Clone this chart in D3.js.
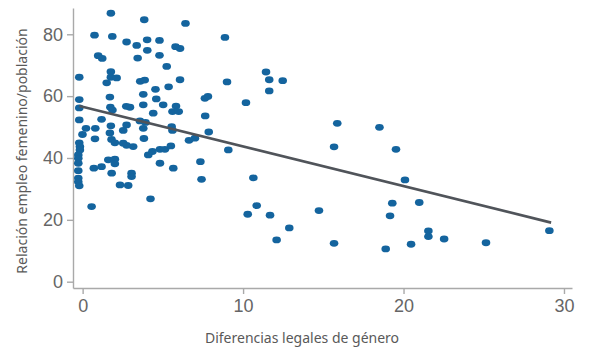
<!DOCTYPE html>
<html>
<head>
<meta charset="utf-8">
<script src="https://cdnjs.cloudflare.com/ajax/libs/d3/7.8.5/d3.min.js"></script>
<style>
  body { margin: 0; background: #fff; }
  svg { font-family: "Noto Sans", sans-serif; }
  .axis path, .axis line { stroke: #a9a9a9; stroke-width: 1.4; }
  .axis text { fill: #666; font-size: 18px; }
  .label { fill: #595959; font-size: 14px; }
</style>
</head>
<body>
<svg></svg>
<script>
// brecha legal (x) vs relacion empleo femenino/poblacion (y)
var legalGap = [
  1.76, 3.84, 6.41, 0.74, 1.85, 2.74, 3.37, 4.02, 4.79, 4.03,
  4.79, 3.43, 0.97, 1.22, 5.79, 6.07, 5.24, 1.76, 1.76, 2.12,
  -0.21, 1.50, 3.59, 3.87, 6.07, 4.54, 5.36, 3.78, 4.59, 1.70,
  -0.21, -0.21, 2.72, 2.95, 3.78, 5.02, 5.82, 5.60, 5.99, 1.73,
  1.86, 1.18, -0.21, 3.57, 3.92, 4.40, 2.74, 2.53, 0.21, 0.79,
  1.76, 1.70, -0.01, 5.55, 5.60, 7.62, 7.81, 7.64, 7.86, 6.63,
  7.00, 3.78, 3.15, 3.82, 0.77, 1.80, 2.01, -0.21, -0.17, -0.17,
  2.53, 2.74, 4.09, 4.35, 4.82, 5.13, 5.50, -0.27, -0.27, -0.27,
  -0.27, -0.27, -0.27, -0.21, 0.70, 1.18, 1.60, 2.01, 2.01, 1.81,
  3.05, 3.05, 2.33, 2.84, 0.56, 4.23, 4.82, 5.65, 7.34, 7.41,
  8.87, 9.00, 11.43, 11.63, 12.47, 11.63, 10.18, 9.08, 15.87, 18.50,
  15.67, 10.64, 10.85, 10.29, 11.68, 14.73, 12.88, 12.09, 15.67, 19.53,
  20.09, 19.30, 20.98, 19.16, 21.55, 21.55, 22.53, 25.14, 20.47, 18.89,
  29.09
];
var employment = [
  86.8, 84.7, 83.5, 79.7, 79.3, 77.5, 76.4, 78.2, 78.0, 74.8,
  73.2, 72.3, 73.1, 72.2, 76.0, 75.4, 69.6, 67.9, 66.1, 65.9,
  66.1, 64.3, 64.8, 65.2, 65.3, 62.2, 63.0, 60.6, 59.1, 59.7,
  58.9, 56.2, 56.7, 56.4, 57.2, 57.2, 56.8, 55.0, 55.0, 56.4,
  55.5, 52.5, 52.3, 52.0, 51.5, 54.5, 50.7, 48.9, 49.6, 49.6,
  50.4, 48.1, 47.6, 50.1, 48.9, 59.3, 59.9, 53.6, 48.4, 45.7,
  46.4, 49.6, 43.7, 46.3, 46.2, 46.0, 44.9, 44.9, 43.7, 42.6,
  44.8, 44.1, 41.0, 42.1, 42.8, 42.8, 43.9, 41.0, 39.9, 38.3,
  35.9, 33.5, 32.3, 31.0, 36.7, 37.2, 39.4, 39.6, 38.1, 35.1,
  35.1, 34.0, 31.3, 31.1, 24.3, 26.8, 38.3, 36.7, 38.8, 33.1,
  79.0, 64.6, 67.8, 65.3, 65.0, 61.7, 57.9, 42.6, 51.2, 49.9,
  43.6, 33.6, 24.6, 21.8, 21.5, 23.0, 17.4, 13.5, 12.4, 42.8,
  32.9, 25.4, 25.6, 21.3, 16.4, 14.6, 13.8, 12.6, 12.1, 10.6,
  16.5
];

// linea de tendencia (extremos)
var trendX = [-0.2, 29.2];
var trendY = [56.8, 19.1];

var xTicks = [0, 10, 20, 30];
var yTicks = [0, 20, 40, 60, 80];

var width = 590;
var height = 354;

var svg = d3.select("svg")
  .attr("width", width)
  .attr("height", height);

var xscale = d3.scaleLinear()
  .domain([-0.6, 30.5])
  .range([73, 572]);

var yscale = d3.scaleLinear()
  .domain([-2.04, 88.5])
  .range([288, 8]);

//X axis
var xaxis = d3.axisBottom(xscale)
  .tickValues(xTicks)
  .tickSize(6)
  .tickPadding(5)
  .tickSizeOuter(0);

svg.append("g")
  .attr("class", "x axis")
  .attr("transform", "translate(0,288)")
  .call(xaxis);

//Y axis
var yaxis = d3.axisLeft(yscale)
  .tickValues(yTicks)
  .tickSize(6)
  .tickPadding(4)
  .tickSizeOuter(0);

svg.append("g")
  .attr("class", "y axis")
  .attr("transform", "translate(73,0)")
  .call(yaxis);

//Points
var points = legalGap.map(function(x, i){ return { x: x, y: employment[i] }; });

svg.append("g")
  .selectAll("ellipse")
  .data(points)
  .enter()
  .append("ellipse")
  .attr("cx", function(d){ return xscale(d.x); })
  .attr("cy", function(d){ return yscale(d.y); })
  .attr("rx", 4.3)
  .attr("ry", 3.4)
  .attr("fill", "#14649e");

//Trend line
var line = d3.line()
  .x(function(d){ return xscale(d[0]); })
  .y(function(d){ return yscale(d[1]); });

svg.append("path")
  .datum(trendX.map(function(x, i){ return [x, trendY[i]]; }))
  .attr("d", line)
  .attr("fill", "none")
  .attr("stroke", "#50545a")
  .attr("stroke-width", 2.6);

//Labels
svg.append("text")
  .attr("class", "label")
  .attr("x", 302)
  .attr("y", 343)
  .attr("text-anchor", "middle")
  .text("Diferencias legales de género");

svg.append("text")
  .attr("class", "label")
  .attr("transform", "translate(27,151) rotate(-90)")
  .attr("text-anchor", "middle")
  .text("Relación empleo femenino/población");
</script>
</body>
</html>
